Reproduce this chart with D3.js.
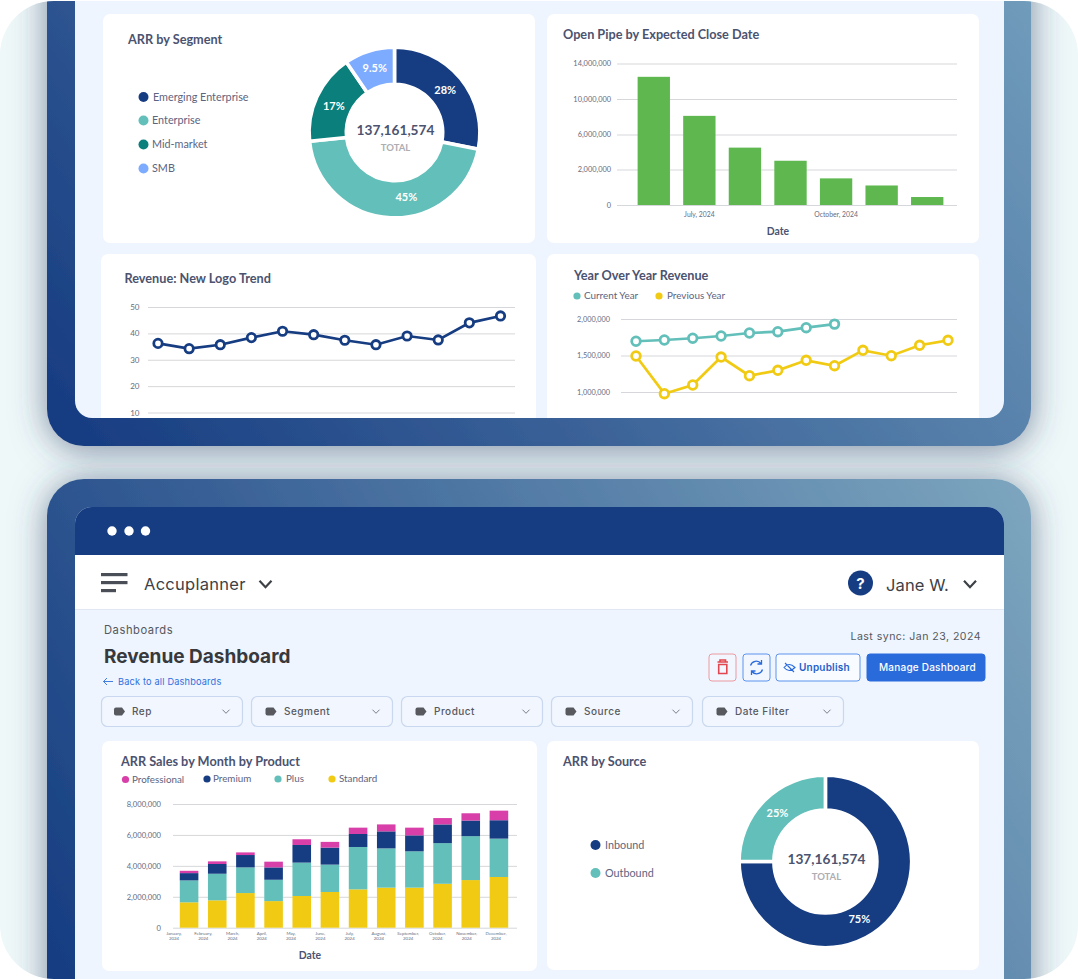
<!DOCTYPE html>
<html>
<head>
<meta charset="utf-8">
<script src="https://cdn.jsdelivr.net/npm/d3@7"></script>
<style>
  html, body { margin: 0; padding: 0; background: #fff; }
  svg { display: block; }
  text { font-family: Lato, sans-serif; }
  .ui text, text.ui { font-family: Inter, sans-serif; }
  .tick line { stroke: #d6d7da; }
  .domain { display: none; }
</style>
</head>
<body>
<svg id="chart" width="1078" height="979"></svg>
<script>
// ---- data ----
const segmentNames = ["Emerging Enterprise", "Enterprise", "Mid-market", "SMB"]
const segmentShares = [28, 45, 17, 9.5]
const segmentLabels = ["28%", "45%", "17%", "9.5%"]

const pipeMonths = ["June, 2024", "July, 2024", "August, 2024", "September, 2024", "October, 2024", "November, 2024", "December, 2024"]
const pipeLabelled = ["July, 2024", "October, 2024"]
const pipeValues = [12500000, 8100000, 4500000, 3000000, 1500000, 1100000, 450000]
const pipeTicks = [0, 2000000, 6000000, 10000000, 14000000]

const logoTicks = [10, 20, 30, 40, 50]
const logoValues = [36.2, 34.2, 35.7, 38.4, 40.8, 39.5, 37.4, 35.7, 39, 37.5, 44, 46.6]

const yoyTicks = [1000000, 1500000, 2000000]
const yoyCurrent = [1695000, 1712000, 1736000, 1767000, 1808000, 1826000, 1881000, 1930000]
const yoyPrevious = [1493000, 977000, 1096000, 1479000, 1223000, 1297000, 1434000, 1360000, 1571000, 1497000, 1640000, 1708000]

const months = ["January", "February", "March", "April", "May", "June", "July", "August", "September", "October", "November", "December"]
const products = ["Standard", "Plus", "Premium", "Professional"]
const standardSales = [1.64, 1.77, 2.24, 1.72, 2.05, 2.31, 2.48, 2.59, 2.59, 2.84, 3.08, 3.28]
const plusSales = [1.42, 1.72, 1.66, 1.38, 2.16, 1.77, 2.74, 2.54, 2.35, 2.63, 2.84, 2.48]
const premiumSales = [0.47, 0.63, 0.8, 0.8, 1.14, 1.1, 0.84, 1.1, 1.03, 1.21, 1.01, 1.19]
const professionalSales = [0.15, 0.17, 0.17, 0.37, 0.37, 0.37, 0.41, 0.45, 0.5, 0.41, 0.47, 0.62]
const salesTicks = [0, 2000000, 4000000, 6000000, 8000000]

const sourceNames = ["Inbound", "Outbound"]
const sourceShares = [75, 25]
const sourceLabels = ["75%", "25%"]

const totalLabel = "137,161,574"
const filters = ["Rep", "Segment", "Product", "Source", "Date Filter"]

const navy = "#163c82"
const teal = "#62bfb9"
const darkTeal = "#0a7f7c"
const skyBlue = "#7dabff"
const green = "#5fb84f"
const yellow = "#f1cb13"
const magenta = "#d83fa8"
const ink = "#4b5370"

const svg = d3.select("#chart")
const defs = svg.append("defs")

function gradient(id, x1, y1, x2, y2, from, to) {
  const g = defs.append("linearGradient").attr("id", id).attr("gradientUnits", "userSpaceOnUse")
    .attr("x1", x1).attr("y1", y1).attr("x2", x2).attr("y2", y2)
  g.append("stop").attr("offset", 0).attr("stop-color", from)
  g.append("stop").attr("offset", 1).attr("stop-color", to)
}
gradient("frameTop", 47, 446, 1031, -300, "#153a80", "#80acc5")
gradient("frameBottom", 47, 1040, 1031, 479, "#12397f", "#7da6bf")

const blur = defs.append("filter").attr("id", "soft").attr("x", "-10%").attr("y", "-20%").attr("width", "120%").attr("height", "140%")
blur.append("feDropShadow").attr("dx", 0).attr("dy", 3).attr("stdDeviation", 17).attr("flood-color", "#2f3f66").attr("flood-opacity", 0.6)

defs.append("clipPath").attr("id", "panelClip").append("rect").attr("x", 0).attr("y", 1).attr("width", 1078).attr("height", 978).attr("rx", 54)
defs.append("clipPath").attr("id", "topClip").append("rect").attr("x", 75).attr("y", -30).attr("width", 929).attr("height", 448).attr("rx", 17)
defs.append("clipPath").attr("id", "bottomClip").append("rect").attr("x", 75).attr("y", 507).attr("width", 929).attr("height", 520).attr("rx", 17)

// ---- backdrop and the two device frames ----
const panel = svg.append("g").attr("clip-path", "url(#panelClip)")
panel.append("rect").attr("width", 1078).attr("height", 979).attr("fill", "#eff8f9")
panel.append("rect").attr("x", 47).attr("y", -60).attr("width", 984).attr("height", 506).attr("rx", 37)
  .attr("fill", "url(#frameTop)").attr("filter", "url(#soft)")
panel.append("rect").attr("x", 47).attr("y", 479).attr("width", 984).attr("height", 560).attr("rx", 37)
  .attr("fill", "url(#frameBottom)").attr("filter", "url(#soft)")

const topScreen = panel.append("g").attr("clip-path", "url(#topClip)")
topScreen.append("rect").attr("x", 75).attr("y", 0).attr("width", 929).attr("height", 422).attr("fill", "#eef5ff")
svg.append("rect").attr("x", 0).attr("y", 0).attr("width", 1078).attr("height", 1).attr("fill", "#fff")

const bottomScreen = panel.append("g").attr("clip-path", "url(#bottomClip)")
bottomScreen.append("rect").attr("x", 75).attr("y", 507).attr("width", 929).attr("height", 480).attr("fill", "#eef5ff")
bottomScreen.append("rect").attr("x", 75).attr("y", 507).attr("width", 929).attr("height", 48).attr("fill", navy)
bottomScreen.append("rect").attr("x", 75).attr("y", 555).attr("width", 929).attr("height", 54).attr("fill", "#fff")
bottomScreen.append("line").attr("x1", 75).attr("x2", 1004).attr("y1", 609.5).attr("y2", 609.5).attr("stroke", "#e1e8f2")

function card(parent, x, y, w, h) {
  parent.append("rect").attr("x", x).attr("y", y).attr("width", w).attr("height", h).attr("rx", 7).attr("fill", "#fff")
}
function title(parent, text, x, y) {
  parent.append("text").attr("x", x).attr("y", y).attr("font-size", 12.7).attr("font-weight", 700).attr("fill", ink).text(text)
}
function legend(parent, names, colors, xs, ys, textXs, size) {
  const items = parent.append("g").selectAll("g").data(names).join("g")
  items.append("circle").attr("cx", (d, i) => xs[i]).attr("cy", (d, i) => ys[i]).attr("r", size > 10 ? 5 : 3.6)
    .attr("fill", (d, i) => colors[i])
  items.append("text").attr("x", (d, i) => textXs[i]).attr("y", (d, i) => ys[i]).attr("dy", "0.35em")
    .attr("font-size", size).attr("fill", "#5c6480").text((d) => d)
}

function donut(parent, shares, labels, colors, cx, cy, inner, outer, nudges) {
  const g = parent.append("g").attr("transform", `translate(${cx},${cy})`)
  const arcs = d3.pie().sort(null)(shares)
  const arc = d3.arc().innerRadius(inner).outerRadius(outer)
  const labelArc = d3.arc().innerRadius(outer - 27).outerRadius(outer - 10)
  g.selectAll("path").data(arcs).join("path").attr("d", arc)
    .attr("fill", (d, i) => colors[i]).attr("stroke", "#fff").attr("stroke-width", 3.6)
  g.selectAll("text.pct").data(arcs).join("text").classed("pct", true)
    .attr("x", (d, i) => labelArc.centroid(d)[0] + nudges[i][0])
    .attr("y", (d, i) => labelArc.centroid(d)[1] + nudges[i][1])
    .attr("dy", "0.35em").attr("text-anchor", "middle").attr("font-size", 11).attr("font-weight", 700)
    .attr("fill", "#fff").text((d, i) => labels[i])
  g.append("text").attr("x", 1).attr("y", -2.5).attr("dy", "0.35em").attr("text-anchor", "middle")
    .attr("font-size", 13.7).attr("font-weight", 700).attr("fill", ink).text(totalLabel)
  g.append("text").attr("x", 1).attr("y", 15.5).attr("dy", "0.35em").attr("text-anchor", "middle")
    .attr("font-size", 9.5).attr("font-weight", 700).attr("fill", "#adadb2").text("TOTAL")
}

function gridAxis(parent, scale, ticks, x0, x1, size, padding) {
  const axis = d3.axisLeft(scale).tickValues(ticks).tickSize(x0 - x1).tickPadding(padding)
    .tickFormat((d) => d3.format(",")(d))
  const g = parent.append("g").attr("transform", `translate(${x0},0)`).call(axis)
  g.selectAll("text").attr("font-size", size).attr("font-family", "Lato").attr("fill", "#666c80")
  g.selectAll("line").attr("stroke-width", 1)
  return g
}

function markerLine(parent, values, x, y, color, r) {
  const line = d3.line().x((d, i) => x(i)).y((d) => y(d))
  parent.append("path").attr("d", line(values)).attr("fill", "none").attr("stroke", color).attr("stroke-width", 2.7)
  parent.append("g").selectAll("circle").data(values).join("circle")
    .attr("cx", (d, i) => x(i)).attr("cy", (d) => y(d)).attr("r", r)
    .attr("fill", "#fff").attr("stroke", color).attr("stroke-width", 2.8)
}

// ---- ARR by Segment ----
card(topScreen, 103, 14, 432, 229)
title(topScreen, "ARR by Segment", 128, 44)
legend(topScreen, segmentNames, [navy, teal, darkTeal, skyBlue], [143.5, 143.5, 143.5, 143.5], [97, 120.5, 144.5, 168.5], [153, 152, 152, 152], 10.8)
donut(topScreen, segmentShares, segmentLabels, [navy, teal, darkTeal, skyBlue], 394.5, 132.5, 48.2, 85.4, [[-1, 0], [15, -2], [0, 2], [0, 0]])

// ---- Open Pipe by Expected Close Date ----
card(topScreen, 547, 14, 432, 229)
title(topScreen, "Open Pipe by Expected Close Date", 563, 39)
// the printed ticks are evenly spaced even though their steps differ
const pipeY = d3.scaleLinear().domain(pipeTicks).range([205, 169.5, 134.5, 99, 63.5])
const pipeX = d3.scaleBand().domain(pipeMonths).range([631, 950]).paddingInner(0.29).paddingOuter(0.145)
gridAxis(topScreen, pipeY, pipeTicks, 617, 957, 7.4, 6)
topScreen.append("g").selectAll("rect").data(pipeValues).join("rect")
  .attr("x", (d, i) => pipeX(pipeMonths[i])).attr("y", (d) => pipeY(d))
  .attr("width", pipeX.bandwidth()).attr("height", (d) => pipeY(0) - pipeY(d)).attr("fill", green)
const pipeBottom = d3.axisBottom(pipeX).tickValues(pipeLabelled).tickSize(0).tickPadding(7)
const pipeBottomG = topScreen.append("g").attr("transform", "translate(0,205)").call(pipeBottom)
pipeBottomG.selectAll("text").attr("font-size", 6.8).attr("font-family", "Lato").attr("fill", "#666c80")
topScreen.append("text").attr("x", 778).attr("y", 235).attr("text-anchor", "middle").attr("font-size", 10.4)
  .attr("font-weight", 700).attr("fill", ink).text("Date")

// ---- Revenue: New Logo Trend ----
card(topScreen, 101, 254, 435, 200)
title(topScreen, "Revenue: New Logo Trend", 124.5, 283)
const logoY = d3.scaleLinear().domain([10, 50]).range([412.5, 307])
const logoX = d3.scaleLinear().domain([0, logoValues.length - 1]).range([158, 500.5])
gridAxis(topScreen, logoY, logoTicks, 148, 515, 8, 8.5)
markerLine(topScreen, logoValues, logoX, logoY, navy, 4.2)

// ---- Year Over Year Revenue ----
card(topScreen, 547, 254, 432, 200)
title(topScreen, "Year Over Year Revenue", 574, 280)
legend(topScreen, ["Current Year", "Previous Year"], [teal, yellow], [577, 659], [296, 296], [584, 667], 9.9)
const yoyY = d3.scaleLinear().domain([1000000, 2000000]).range([392, 319])
const yoyX = d3.scaleLinear().domain([0, 11]).range([636, 948])
gridAxis(topScreen, yoyY, yoyTicks, 621, 957, 7.3, 11)
markerLine(topScreen, yoyPrevious, yoyX, yoyY, yellow, 4.3)
markerLine(topScreen, yoyCurrent, yoyX, yoyY, teal, 4.3)

// ---- app chrome of the lower screen ----
bottomScreen.append("g").selectAll("circle").data([112, 129, 145.5]).join("circle")
  .attr("cx", (d) => d).attr("cy", 531).attr("r", 4.7).attr("fill", "#fff")
bottomScreen.append("g").selectAll("rect").data([[573, 26.5], [581, 26.5], [589, 15]]).join("rect")
  .attr("x", 101).attr("y", (d) => d[0]).attr("width", (d) => d[1]).attr("height", 3.2).attr("fill", "#4a4f57")

const ui = bottomScreen.append("g").attr("class", "ui")
function chevron(parent, x, y, w, h, color, sw) {
  parent.append("path").attr("d", `M${x - w / 2},${y - h / 2}L${x},${y + h / 2}L${x + w / 2},${y - h / 2}`)
    .attr("fill", "none").attr("stroke", color).attr("stroke-width", sw)
}
function uiText(text, x, y, size, color, opts = {}) {
  return ui.append("text").attr("x", x).attr("y", y).attr("font-size", size).attr("fill", color)
    .attr("font-weight", opts.weight || 400).attr("letter-spacing", opts.spacing || 0)
    .attr("text-anchor", opts.anchor || "start").text(text)
}
uiText("Accuplanner", 144, 590, 16.5, "#3d4146", { spacing: 0.28 })
chevron(ui, 265.5, 584, 12, 6.5, "#3d4146", 2.2)
ui.append("circle").attr("cx", 860.5).attr("cy", 583).attr("r", 12.5).attr("fill", navy)
uiText("?", 860.5, 588.5, 15, "#fff", { weight: 700, anchor: "middle" })
uiText("Jane W.", 886, 591, 16.5, "#3d4146", { spacing: 0.1 })
chevron(ui, 970, 584, 12, 6.5, "#3d4146", 2.2)

uiText("Dashboards", 104, 633.5, 11.2, "#55585d", { spacing: 0.55 })
uiText("Revenue Dashboard", 104, 662.5, 19, "#37393d", { weight: 700 })
uiText("Back to all Dashboards", 118, 685, 9.2, "#2f6fdc", { spacing: 0.18 })
ui.append("path").attr("d", "M113,681.5H103.5M107,678L103.5,681.5L107,685").attr("fill", "none").attr("stroke", "#2f6fdc").attr("stroke-width", 0.9)
uiText("Last sync: Jan 23, 2024", 981, 640, 10.6, "#55585d", { anchor: "end", spacing: 0.45 })

function button(x, w, stroke, fill) {
  ui.append("rect").attr("x", x + 0.5).attr("y", 654).attr("width", w).attr("height", 27).attr("rx", 3)
    .attr("fill", fill).attr("stroke", stroke).attr("stroke-width", 1)
}
button(708.5, 27, "#ec9a9f", "#f1f6ff")
ui.append("path").attr("d", "M717.5,662H728M720,662V660H725.5V662M718.7,664.5H726.8V673.5H718.7Z").attr("fill", "none").attr("stroke", "#e2474f").attr("stroke-width", 1.6)
button(742.5, 27, "#5d94ee", "#f1f6ff")
ui.append("path").attr("d", "M750.5,665.5A6,6 0 0 1 761,663.5M762.5,669.5A6,6 0 0 1 752,671.5M761.5,660V664H757.5M751.5,675V671H755.5")
  .attr("fill", "none").attr("stroke", "#2a6bdc").attr("stroke-width", 1.3)
button(775.5, 84, "#5d94ee", "#f8fbff")
ui.append("path").attr("d", "M784,667.5Q789,661.5 795,667.5Q789,673.5 784,667.5ZM785,663L794,672").attr("fill", "none").attr("stroke", "#2a6bdc").attr("stroke-width", 1.1)
uiText("Unpublish", 799, 671, 10, "#1f5fc8", { weight: 600, spacing: 0.2 })
button(866.5, 118, "#2a6bdc", "#2a6bdc")
uiText("Manage Dashboard", 879, 671, 10, "#fff", { weight: 500, spacing: 0.22 })

const filterXs = [101, 251, 401, 551, 702]
const filterG = ui.append("g").selectAll("g").data(filters).join("g")
  .attr("transform", (d, i) => `translate(${filterXs[i]},696)`)
filterG.append("rect").attr("x", 0.5).attr("y", 0.5).attr("width", 141).attr("height", 30).attr("rx", 6)
  .attr("fill", "#f1f6ff").attr("stroke", "#c9d8ee").attr("stroke-width", 1.2)
filterG.append("path").attr("transform", (d, i) => `translate(${i ? 1.5 : 0},0)`)
  .attr("d", "M13,13.5a2,2 0 0 1 2,-2h6l3,4l-3,4h-6a2,2 0 0 1 -2,-2z").attr("fill", "#57595e")
filterG.append("text").attr("x", (d, i) => (i ? 33 : 31)).attr("y", 19.2).attr("font-size", 10).attr("font-weight", 500)
  .attr("letter-spacing", 0.5).attr("fill", "#57595e").text((d) => d)
filterG.each(function () { chevron(d3.select(this), 125, 15.5, 7, 3.6, "#7d8088", 1) })

// ---- ARR Sales by Month by Product ----
card(bottomScreen, 102, 741, 435, 230)
title(bottomScreen, "ARR Sales by Month by Product", 121, 765.5)
legend(bottomScreen, ["Professional", "Premium", "Plus", "Standard"], [magenta, navy, teal, yellow], [125.5, 207, 278, 332], [779.5, 779, 779, 779], [132, 213, 286, 339], 9.8)

const salesRows = months.map((m, i) => ({
  month: m,
  Standard: standardSales[i] * 1e6,
  Plus: plusSales[i] * 1e6,
  Premium: premiumSales[i] * 1e6,
  Professional: professionalSales[i] * 1e6,
}))
const salesStack = d3.stack().keys(products)(salesRows)
const salesColor = d3.scaleOrdinal().domain(products).range([yellow, teal, navy, magenta])
const salesX = d3.scaleBand().domain(months).range([175, 513]).paddingInner(0.34).paddingOuter(0.17)
const salesY = d3.scaleLinear().domain([0, 8000000]).range([927.7, 804])
gridAxis(bottomScreen, salesY, salesTicks, 173, 517, 7.6, 12)
bottomScreen.append("g").selectAll("g").data(salesStack).join("g")
  .attr("fill", (d) => salesColor(d.key))
  .selectAll("rect").data((d) => d).join("rect")
  .attr("x", (d) => salesX(d.data.month)).attr("width", salesX.bandwidth())
  .attr("y", (d) => salesY(d[1])).attr("height", (d) => salesY(d[0]) - salesY(d[1]))

// month labels sit on their own, slightly narrower spacing than the bars
const monthLabelX = d3.scalePoint().domain(months).range([174, 496])
const monthLabels = bottomScreen.append("g").selectAll("text").data(months).join("text")
  .attr("x", (d) => monthLabelX(d)).attr("y", 935).attr("text-anchor", "middle")
  .attr("font-size", 4.4).attr("fill", "#666c80")
monthLabels.append("tspan").attr("x", (d) => monthLabelX(d)).text((d) => d + ",")
monthLabels.append("tspan").attr("x", (d) => monthLabelX(d)).attr("dy", 4.6).text("2024")
bottomScreen.append("text").attr("x", 310).attr("y", 958.5).attr("text-anchor", "middle").attr("font-size", 10.4)
  .attr("font-weight", 700).attr("fill", ink).text("Date")

// ---- ARR by Source ----
card(bottomScreen, 547, 741, 432, 229)
title(bottomScreen, "ARR by Source", 563, 766)
legend(bottomScreen, sourceNames, [navy, teal], [595.5, 595.5], [845, 873], [605, 605], 10.8)
donut(bottomScreen, sourceShares, sourceLabels, [navy, teal], 825.4, 861.5, 51.5, 86.3, [[-14, 10], [0, 0]])
</script>
</body>
</html>
